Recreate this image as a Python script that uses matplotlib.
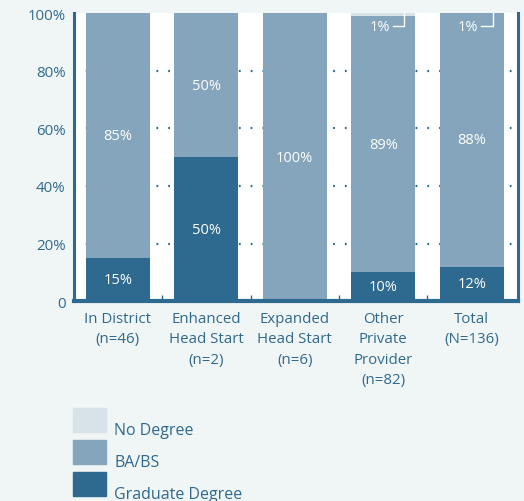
import numpy as np
import matplotlib.pyplot as plt
from matplotlib.patches import Rectangle

plt.rcParams['font.family'] = ['Open Sans', 'DejaVu Sans']

categories = ["In District\n(n=46)", "Enhanced\nHead Start\n(n=2)", "Expanded\nHead Start\n(n=6)",
              "Other\nPrivate\nProvider\n(n=82)", "Total\n(N=136)"]
graduate = [15, 50, 0, 10, 12]
ba_bs = [85, 50, 100, 89, 88]
no_degree = [0, 0, 0, 1, 1]

series_names = ["No Degree", "BA/BS", "Graduate Degree"]
yticks = [0, 20, 40, 60, 80, 100]
ytick_labels = ["0", "20%", "40%", "60%", "80%", "100%"]

dark = '#2e6a8f'
mid = '#84a5bb'
light = '#d8e2e9'
bg = '#f0f5f5'
text_col = '#2f6a8e'

fig = plt.figure(figsize=(5.24, 5.02), dpi=100, facecolor=bg)
ax = fig.add_axes([0.141, 0.398, 0.847, 0.574])
ax.set_facecolor('white')

x = np.arange(len(categories))
w = 0.72
grad = np.array(graduate)
ba = np.array(ba_bs)
nd = np.array(no_degree)
ax.bar(x, grad, w, color=dark, zorder=2)
ax.bar(x, ba, w, bottom=grad, color=mid, zorder=2)
ax.bar(x, nd, w, bottom=grad + ba, color=light, zorder=2)

for i in range(len(x)):
    if grad[i] > 0:
        ax.text(x[i], grad[i] / 2, f"{graduate[i]}%", color='white', ha='center', va='center',
                fontsize=10.5, zorder=3)
    if ba[i] > 0:
        ax.text(x[i], grad[i] + ba[i] / 2, f"{ba_bs[i]}%", color='white', ha='center', va='center',
                fontsize=10.5, zorder=3)
    if nd[i] > 0:
        ax.text(x[i] - 0.04, 95.3, f"{no_degree[i]}%", color='white', ha='center', va='center',
                fontsize=10.5, zorder=3)
        ax.plot([x[i] + 0.11, x[i] + 0.24, x[i] + 0.24], [95.6, 95.6, 100.5],
                color='white', lw=1, zorder=3, clip_on=False)

ax.set_xlim(-0.497, 4.52)
ax.set_ylim(0, 100)
ax.set_yticks(yticks)
ax.set_yticklabels(ytick_labels)
for y in yticks[1:-1]:
    ax.axhline(y, color=dark, lw=1.6, ls=(0, (0.8, 4.5)), zorder=1)

ax.set_xticks(x)
ax.set_xticklabels(categories, linespacing=1.5)
ax.tick_params(axis='x', length=0, pad=7, labelsize=10.8, labelcolor=text_col)
ax.tick_params(axis='y', length=0, pad=6, labelsize=10.8, labelcolor=text_col)
ax.set_xticks(x[:-1] + 0.5, minor=True)
ax.tick_params(axis='x', which='minor', direction='in', length=4, width=1, color=dark)

for s in ['left', 'bottom', 'right']:
    ax.spines[s].set_color(dark)
ax.spines['left'].set_linewidth(2.2)
ax.spines['bottom'].set_linewidth(3)
ax.spines['right'].set_linewidth(2.2)
ax.spines['top'].set_visible(False)

colors = [light, mid, dark]
for k, (name, c) in enumerate(zip(series_names, colors)):
    y0 = 1 - (409 + 32 * k + 24) / 502
    fig.add_artist(Rectangle((73 / 524, y0), 33 / 524, 24 / 502, color=c, transform=fig.transFigure))
    fig.text(114 / 524, y0 - 6 / 502, name, color=text_col, fontsize=11.5, va='bottom', ha='left')

fig.savefig('out.png', dpi=100, facecolor=bg)
